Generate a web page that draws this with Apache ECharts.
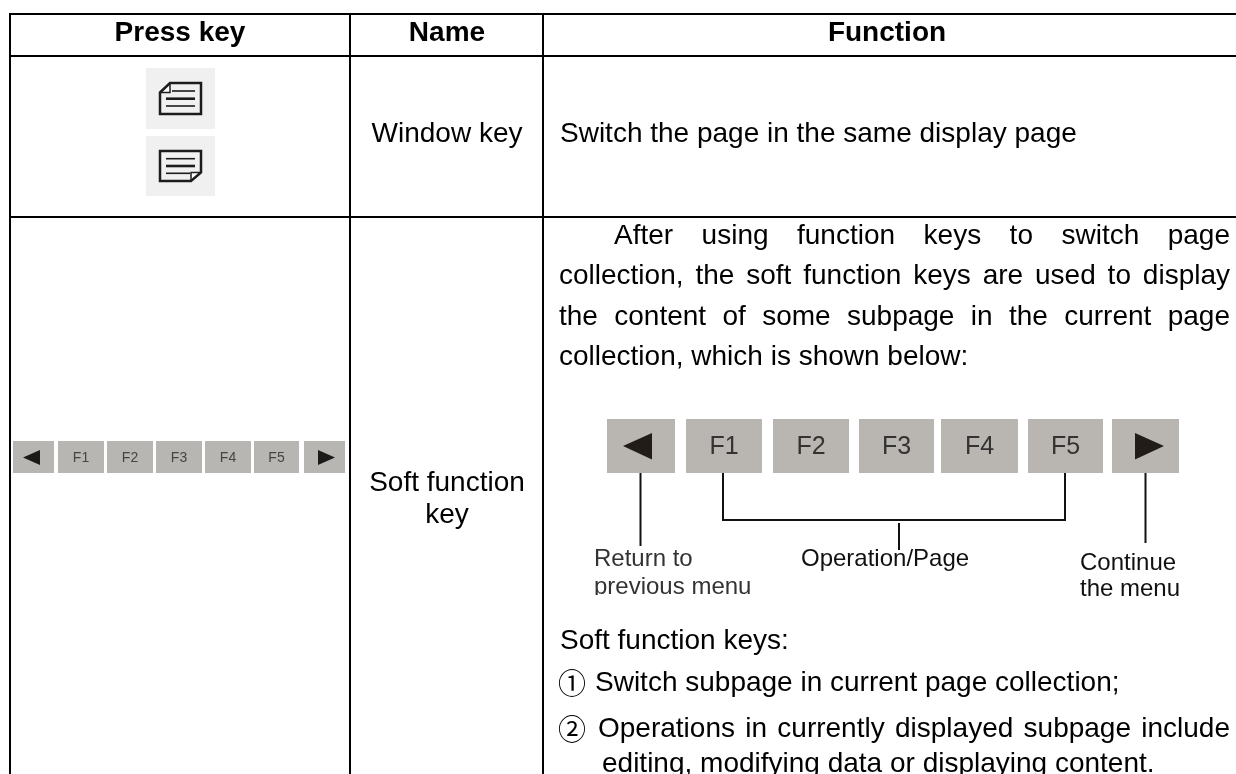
<!DOCTYPE html>
<html><head><meta charset="utf-8">
<style>html,body{margin:0;padding:0;background:#fff;overflow:hidden}#c{width:1236px;height:774px}</style>
<script src="https://cdn.jsdelivr.net/npm/echarts@6/dist/echarts.min.js"></script>
</head><body><div id="c"></div>
<script>
const headers = ['Press key', 'Name', 'Function'];
const nameRow1 = ['Window key'];
const nameRow2 = ['Soft function', 'key'];
const functionRow1 = 'Switch the page in the same display page';
const softKeyLabels = ['F1', 'F2', 'F3', 'F4', 'F5'];
const introLines = ['After using function keys to switch page',
  'collection, the soft function keys are used to display',
  'the content of some subpage in the current page'];
const introLast = 'collection, which is shown below:';
const calloutLeft = ['Return to', 'previous menu'];
const calloutMid = ['Operation/Page'];
const calloutRight = ['Continue', 'the menu'];
const softHeading = 'Soft function keys:';
const item1 = 'Switch subpage in current page collection;';
const item2a = 'Operations in currently displayed subpage include';
const item2b = 'editing, modifying data or displaying content.';

const SANS = '"Liberation Sans", Arial, sans-serif';
const g = [];
const mctx = document.createElement('canvas').getContext('2d');
function T(text, x, y, size, o) {
  o = o || {};
  g.push({type:'text', x, y, z:o.z||5, style:{text, fill:o.fill||'#000',
    font:(o.bold?'bold ':'')+size+'px '+(o.family||SANS), textAlign:o.align||'left', textVerticalAlign:'middle', verticalAlign:'middle'}});
}
function justify(text, x0, x1, y, size) {
  const words = text.split(' ');
  mctx.font = size+'px '+SANS;
  const w = words.map(s=>mctx.measureText(s).width);
  const gap = (x1-x0-w.reduce((a,b)=>a+b,0))/(words.length-1);
  let x = x0;
  words.forEach((s,i)=>{ T(s,x,y,size); x += w[i]+gap; });
}
function R(x0,y0,x1,y1,fill,z){ g.push({type:'rect',z:z||1,shape:{x:x0,y:y0,width:x1-x0,height:y1-y0},style:{fill}}); }
function P(points,fill){ g.push({type:'polygon',z:3,shape:{points},style:{fill}}); }
function L(points,stroke,lw,closed){ g.push({type:closed?'polygon':'polyline',z:3,shape:{points},style:{stroke,lineWidth:lw,fill:closed?'transparent':null}}); }

// grid lines
[14,56,217].forEach(y=>R(10-1,y-1,1236,y+1,'#000'));
[10,350,543].forEach(x=>R(x-1,13,x+1,774,'#000'));

// headers
T(headers[0],180,33,28,{bold:1,align:'center'});
T(headers[1],447,33,28,{bold:1,align:'center'});
T(headers[2],887,33,28,{bold:1,align:'center'});

// window key icons
R(146,68,215,129,'#f0f0f0'); R(146,136,215,196,'#f0f0f0');
P([[160,92.5],[170,83],[170,92.5]],'#fff');
L([[160,92.5],[170,83],[201,83],[201,114],[160,114]],'#1c1c1c',2.5,true);
L([[170,83],[170,92.5],[160,92.5]],'#1c1c1c',1.5);
[[91,1.6,172],[98.7,2.6,166],[106,1.6,166]].forEach(a=>L([[a[2],a[0]],[195,a[0]]],'#1c1c1c',a[1]));
P([[201,172.5],[191,172.5],[191,181]],'#fff');
L([[160,151],[201,151],[201,172.5],[191,181],[160,181]],'#1c1c1c',2.5,true);
L([[201,172.5],[191,172.5],[191,181]],'#1c1c1c',1.5);
[[158.7,1.6,195],[166,2.6,195],[173.3,1.6,190]].forEach(a=>L([[166,a[0]],[a[2],a[0]]],'#1c1c1c',a[1]));

// small soft keys
R(13,441,54,473,'#b8b6b3'); R(304,441,345,473,'#b8b6b3');
P([[23,457.5],[40,450],[40,465]],'#1a1a18'); P([[318,450],[318,465],[335,457.5]],'#1a1a18');
[[58,104],[107,153],[156,202],[205,251],[254,299]].forEach((b,i)=>{
  R(b[0],441,b[1],473,'#b8b6b3');
  T(softKeyLabels[i],(b[0]+b[1])/2,458,14,{align:'center',fill:'#444'});
});

// names
T(nameRow1[0],447,134,28,{align:'center'});
T(nameRow2[0],447,483.5,28,{align:'center'});
T(nameRow2[1],447,515.5,28,{align:'center'});

// function text
T(functionRow1,560,134,28);
justify(introLines[0],614,1230,236,28);
justify(introLines[1],559,1230,276,28);
justify(introLines[2],559,1230,317,28);
T(introLast,559,357,28);

// big soft keys
R(607,419,675,473,'#b9b5b0'); R(1112,419,1179,473,'#b9b5b0');
P([[623,446],[652,433],[652,459.5]],'#221c18'); P([[1135,433],[1135,459.5],[1164,446]],'#221c18');
[[686,762],[773,849],[859,934],[941,1018],[1028,1103]].forEach((b,i)=>{
  R(b[0],419,b[1],473,'#b9b5b0');
  T(softKeyLabels[i],(b[0]+b[1])/2,447,25,{align:'center',fill:'#333'});
});
// callout lines
L([[640.5,473],[640.5,546]],'#111',2);
L([[723,473],[723,520],[1065,520],[1065,473]],'#111',2);
L([[899,523],[899,550]],'#111',2);
L([[1145.5,473],[1145.5,543]],'#111',2);
T(calloutLeft[0],594,559,24,{fill:'#333'});
T(calloutLeft[1],594,587,24,{fill:'#333'});
R(585,595,760,612,'#fff',6);
T(calloutMid[0],801,559,24,{fill:'#111'});
T(calloutRight[0],1080,563,24,{fill:'#111'});
T(calloutRight[1],1080,589,24,{fill:'#111'});

// list
T(softHeading,560,641,28);
T('①',558,683,28,{family:'"Noto Sans CJK SC"'});
T(item1,595,683,28);
T('②',558,729,28,{family:'"Noto Sans CJK SC"'});
justify(item2a,598,1230,729,28);
T(item2b,602,764,28);

const chart = echarts.init(document.getElementById('c'),null,{renderer:'canvas'});
chart.setOption({animation:false,backgroundColor:'#fff',graphic:{elements:g}});
</script></body></html>
